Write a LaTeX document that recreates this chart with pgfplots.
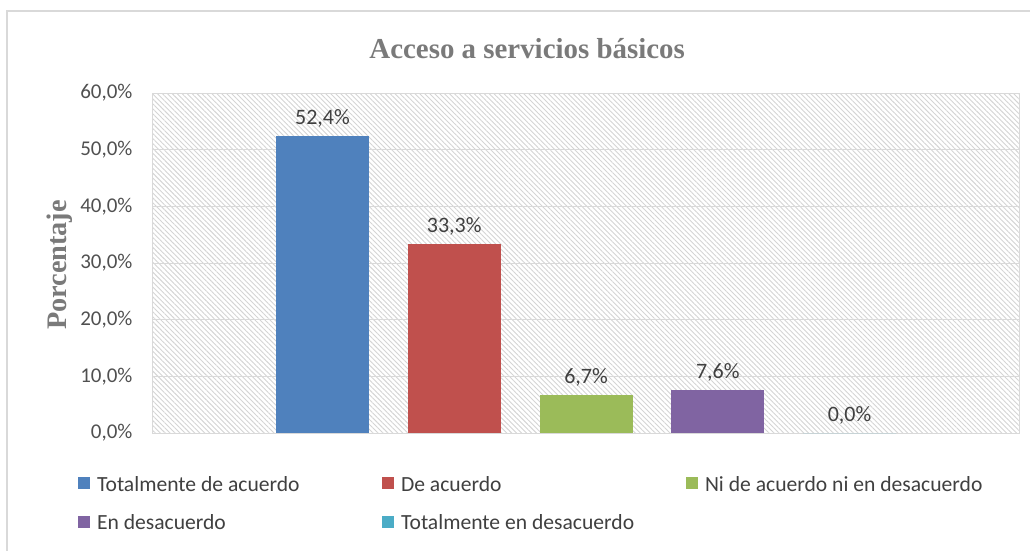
\documentclass[border=0pt]{standalone}
\usepackage{fontspec}
\setmainfont{Carlito}
\newfontfamily\titlefont{Liberation Serif}
\usepackage{pgfplots}
\pgfplotsset{compat=1.18}
\usetikzlibrary{patterns.meta}
\definecolor{c1}{HTML}{4F81BD}
\definecolor{c2}{HTML}{C0504D}
\definecolor{c3}{HTML}{9BBB59}
\definecolor{c4}{HTML}{8064A2}
\definecolor{c5}{HTML}{4BACC6}
\definecolor{gridcol}{HTML}{D9D9D9}
\definecolor{framecol}{HTML}{D9D9D9}
\definecolor{hatchcol}{HTML}{D4D4D4}
\definecolor{titlecol}{HTML}{7A7A7A}
\definecolor{tickcol}{HTML}{505050}
\definecolor{labelcol}{HTML}{404040}
\newcommand{\bigf}{\fontsize{21}{25}\selectfont}
\newcommand{\legf}{\fontsize{21.6}{26}\selectfont}
\newcommand{\pct}[1]{\pgfmathprintnumber[fixed,fixed zerofill,precision=1,use comma]{#1}\%}
\newcommand{\lent}[1]{\makebox[285pt][l]{\rule[-5pt]{0pt}{20pt}#1}}
\begin{document}
\begin{tikzpicture}[x=1pt,y=1pt]
\path[use as bounding box] (0,0) rectangle (1030,550);
\draw[draw=framecol, line width=1.5pt] (7,-5) -- (7,539) -- (1040,539);
\begin{axis}[
  at={(153pt,117pt)}, anchor=south west,
  width=866pt, height=340pt, scale only axis,
  xmin=-1.286, xmax=5.286, ymin=0, ymax=60,
  ytick={0,10,...,60}, xtick=\empty,
  ymajorgrids, grid style={gridcol, line width=1pt},
  axis line style={gridcol, line width=1pt},
  major tick length=0pt,
  axis background/.style={pattern={Lines[angle=-45,distance=3.5pt,line width=0.9pt]}, pattern color=hatchcol},
  /pgf/number format/assume math mode=true,
  yticklabel={\pct{\tick}},
  yticklabel style={font=\bigf, text=tickcol, xshift=-17pt},
  title={Acceso a servicios básicos},
  title style={font=\titlefont\bfseries\fontsize{28.9}{33}\selectfont, text=titlecol, at={(axis description cs:0.432,1.114)}, anchor=center},
  ylabel={Porcentaje},
  ylabel style={font=\titlefont\bfseries\fontsize{28.3}{32}\selectfont, text=titlecol, at={(axis description cs:-0.108,0.494)}, anchor=center},
  legend columns=3,
  legend style={at={(axis description cs:-0.0866,-0.1265)}, anchor=north west, draw=none, fill=none, inner sep=0pt, outer sep=0pt, font=\legf, text=labelcol, nodes={inner sep=0pt}, row sep=22pt, /tikz/every odd column/.style={column sep=7pt}},
  legend image code/.code={\fill[#1, draw=none] (0pt,-5pt) rectangle (12pt,7pt);},
  mybar/.style={ybar, bar width=93pt, bar shift=0pt, draw=none, fill=#1,
    nodes near coords={\pct{\pgfplotspointmeta}},
    every node near coord/.append style={font=\fontsize{22}{26}\selectfont, text=labelcol, anchor=south, yshift=5.5pt}},
]
\addplot[mybar=c1] coordinates {(0,52.4)};
\addlegendentry{\lent{Totalmente de acuerdo}}
\addplot[mybar=c2] coordinates {(1,33.3)};
\addlegendentry{\lent{De acuerdo}}
\addplot[mybar=c3] coordinates {(2,6.7)};
\addlegendentry{\lent{Ni de acuerdo ni en desacuerdo}}
\addplot[mybar=c4] coordinates {(3,7.6)};
\addlegendentry{\lent{En desacuerdo}}
\addplot[mybar=c5] coordinates {(4,0.0)};
\addlegendentry{\lent{Totalmente en desacuerdo}}
\end{axis}
\end{tikzpicture}
\end{document}
